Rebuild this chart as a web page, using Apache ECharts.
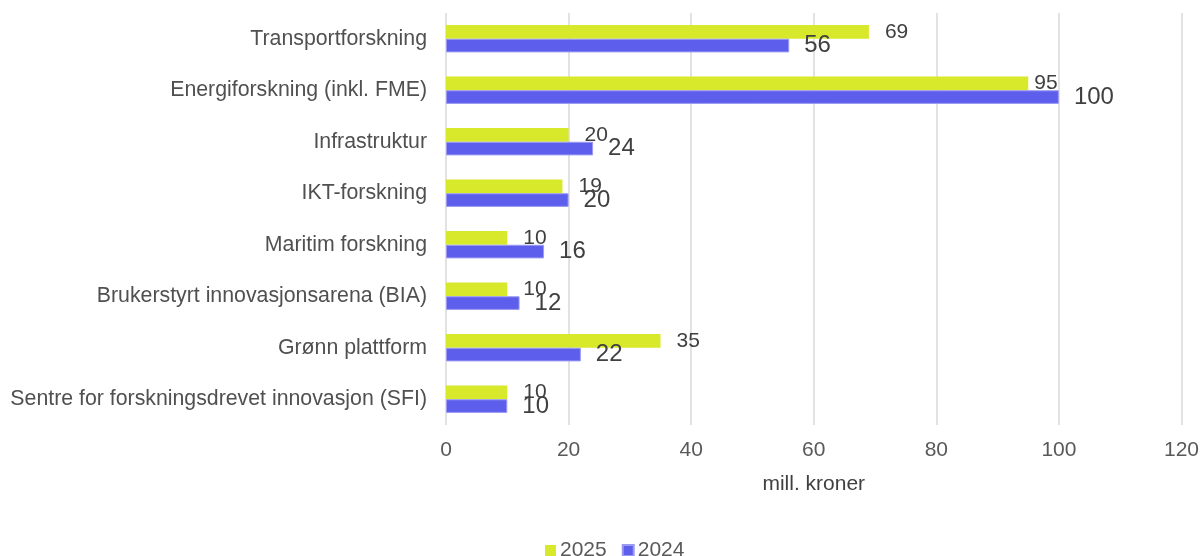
<!DOCTYPE html>
<html><head><meta charset="utf-8">
<script src="https://cdn.jsdelivr.net/npm/echarts@6/dist/echarts.min.js"></script>
<style>html,body{margin:0;padding:0;background:#fff}#c{width:1202px;height:556px}</style>
</head><body><div id="c"></div>
<script>
const categories = ["Transportforskning","Energiforskning (inkl. FME)","Infrastruktur","IKT-forskning","Maritim forskning","Brukerstyrt innovasjonsarena (BIA)","Grønn plattform","Sentre for forskningsdrevet innovasjon (SFI)"];
const values2025 = [69, 95, 20, 19, 10, 10, 35, 10];
const values2024 = [56, 100, 24, 20, 16, 12, 22, 10];
const seriesNames = ["2025", "2024"];
const axisName = "mill. kroner";

const chart = echarts.init(document.getElementById('c'));
const font = "'Liberation Sans', Arial, sans-serif";
chart.setOption({
  animation: false,
  textStyle: { fontFamily: font },
  grid: { left: 446, right: 17, top: 13, bottom: 131 },
  legend: {
    data: seriesNames, top: 535, left: 540,
    icon: 'rect', itemWidth: 11, itemHeight: 11, itemGap: 15,
    textStyle: { fontSize: 21, color: '#595959', fontFamily: font, padding: [0,0,0,-1] }
  },
  xAxis: {
    type: 'value', min: 0, max: 120, interval: 20,
    name: axisName, nameLocation: 'middle', nameGap: 49,
    nameTextStyle: { fontSize: 21, color: '#404040', fontFamily: font },
    axisLine: { show: false }, axisTick: { show: false },
    axisLabel: { fontSize: 21, color: '#595959', margin: 15, fontFamily: font },
    splitLine: { lineStyle: { color: '#d9d9d9', width: 1.5 } }
  },
  yAxis: {
    type: 'category', data: categories, inverse: true,
    axisLine: { show: false }, axisTick: { show: false },
    axisLabel: { fontSize: 21.3, color: '#505050', margin: 19, fontFamily: font, padding: [6, 0, 0, 0] }
  },
  series: [
    {
      name: seriesNames[0], type: 'bar',
      data: values2025.map((v, i) => i === 1 ? { value: v, label: { distance: 6 } } : v),
      itemStyle: { color: '#d8e82b' },
      barGap: '0%', barCategoryGap: '47%',
      label: { show: true, position: 'right', distance: 16, fontSize: 21, color: '#404040', fontFamily: font }
    },
    {
      name: seriesNames[1], type: 'bar', data: values2024,
      itemStyle: { color: '#5e5eec', borderColor: '#9a9af2', borderWidth: 1 },
      barGap: '0%', barCategoryGap: '47%',
      label: { show: true, position: 'right', distance: 15, fontSize: 24, color: '#404040', fontFamily: font }
    }
  ]
});
</script></body></html>
